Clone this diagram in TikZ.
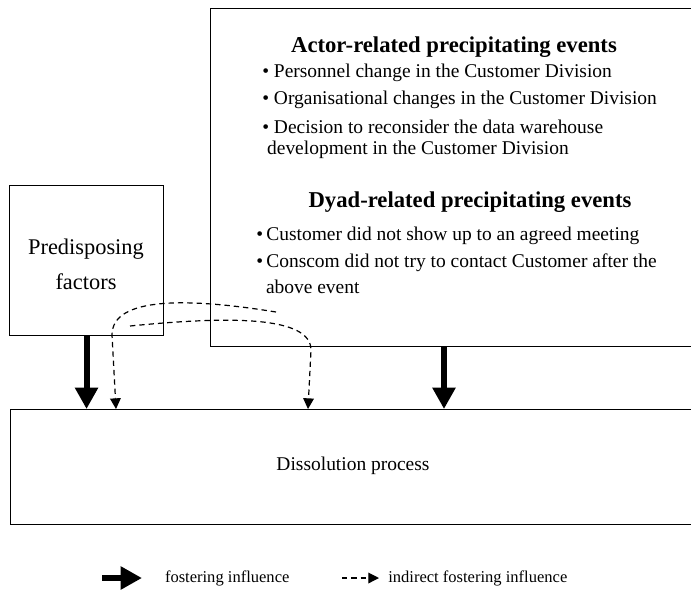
\documentclass[tikz,border=0pt]{standalone}
\usepackage{fontspec}
\setmainfont{Liberation Serif}
\usetikzlibrary{arrows.meta, positioning}

\begin{document}
\begin{tikzpicture}[
    x=0.75pt, y=-0.75pt,
    box/.style={draw, rectangle, line width=0.8pt, anchor=north west, inner sep=0pt},
    head/.style={font=\fontsize{17}{20}\selectfont\bfseries},
    item/.style={font=\fontsize{14.6}{18}\selectfont, anchor=west, align=left, inner sep=0pt},
    label/.style={font=\fontsize{16.8}{20}\selectfont, align=center},
    legend/.style={font=\fontsize{12.4}{14}\selectfont, anchor=west, inner sep=0pt},
    thickarrow/.style={-{Triangle[length=16pt, width=16.5pt]}, line width=4.5pt},
    dasharrow/.style={-{Triangle[length=8pt, width=8pt]}, dash pattern=on 4pt off 3pt, line width=0.9pt}
]
\useasboundingbox (0,0) rectangle (691,590);
\clip (0,0) rectangle (691,590);

% Boxes
\node[box, minimum width=450pt, minimum height=253.5pt] (events) at (210,8) {};
\node[box, minimum width=115.5pt, minimum height=112.5pt] (predisp) at (9,185) {};
\node[box, minimum width=525pt, minimum height=86.25pt] (dissol) at (10,409) {};

% Box texts
\node[label] at (86,264) {Predisposing\\[6pt]factors};
\node[font=\fontsize{14.6}{18}\selectfont] at (353,466) {Dissolution process};

\node[head] at (454,47) {Actor-related precipitating events};
\node[item] at (262,73) {\textbullet\ Personnel change in the Customer Division};
\node[item] at (262,100) {\textbullet\ Organisational changes in the Customer Division};
\node[item] at (262,127) {\textbullet\ Decision to reconsider the data warehouse};
\node[item] at (262,150) {\ development in the Customer Division};

\node[head] at (470,202) {Dyad-related precipitating events};
\node[item] at (256,236) {\textbullet\,Customer did not show up to an agreed meeting};
\node[item] at (256,263) {\textbullet\,Conscom did not try to contact Customer after the};
\node[item] at (256,287) {\ \ above event};

% Influences
\coordinate (evout) at (444,346);
\coordinate (s1) at (276,312);
\coordinate (t1) at (116,409);
\coordinate (s2) at (130,326);
\coordinate (t2) at (308,409);

\draw[thickarrow] (predisp.south) -- (predisp.south |- dissol.north);
\draw[thickarrow] (evout) -- (evout |- dissol.north);
\draw[dasharrow] (s1) .. controls (190,298) and (112,296) .. (112,335) -- (t1);
\draw[dasharrow] (s2) .. controls (230,316) and (311,316) .. (311,350) -- (t2);

% Legend
\coordinate (la) at (102,578);
\coordinate (lb) at (342,578);
\draw[thickarrow] (la) -- ++(40,0) node[legend, right=15pt] {fostering influence};
\draw[dasharrow] (lb) -- ++(37,0) node[legend, right=6.5pt] {indirect fostering influence};
\end{tikzpicture}
\end{document}
